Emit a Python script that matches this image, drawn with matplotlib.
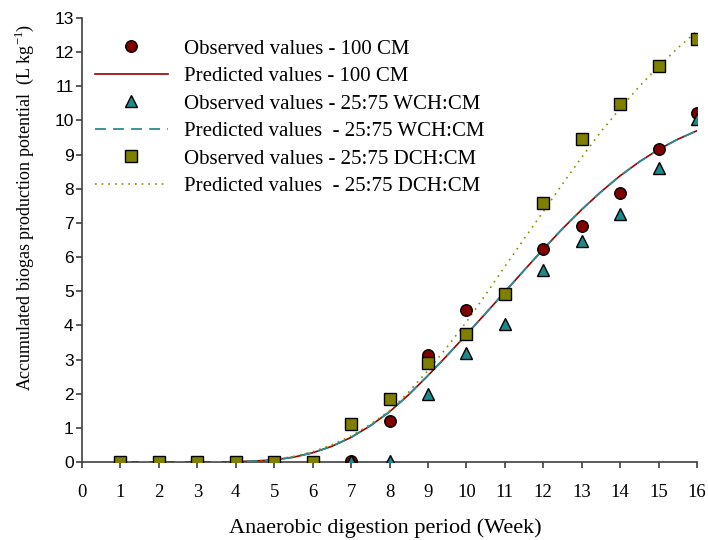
import numpy as np
import matplotlib
matplotlib.use('Agg')
import matplotlib.pyplot as plt

plt.rcParams['font.family'] = 'Liberation Serif'
plt.rcParams['mathtext.fontset'] = 'custom'
plt.rcParams['mathtext.rm'] = 'Liberation Serif'

# observed values, weeks 1..16
weeks = [1, 2, 3, 4, 5, 6, 7, 8, 9, 10, 11, 12, 13, 14, 15, 16]
obs_cm = [0, 0, 0, 0, 0, 0, 0.02, 1.2, 3.13, 4.45, 4.93, 6.25, 6.91, 7.87, 9.16, 10.21]
obs_wch = [0, 0, 0, 0, 0, 0, 0.02, 0.02, 1.98, 3.18, 4.03, 5.62, 6.47, 7.25, 8.62, 10.05]
obs_dch = [0, 0, 0, 0, 0, 0, 1.11, 1.84, 2.89, 3.75, 4.92, 7.57, 9.45, 10.47, 11.58, 12.38]

# predicted curves, read every half week
t_pred = [1, 1.5, 2, 2.5, 3, 3.5, 4, 4.5, 5, 5.5, 6, 6.5, 7, 7.5, 8, 8.5, 9, 9.5,
          10, 10.5, 11, 11.5, 12, 12.5, 13, 13.5, 14, 14.5, 15, 15.5, 16]
pred_cm = [0, 0, 0, 0, 0, 0, 0.01, 0.03, 0.06, 0.14, 0.27, 0.46, 0.72, 1.06, 1.47, 1.97, 2.53, 3.12,
           3.73, 4.35, 4.98, 5.61, 6.23, 6.83, 7.39, 7.91, 8.38, 8.79, 9.15, 9.45, 9.70]
pred_wch = [0, 0, 0, 0, 0, 0, 0.01, 0.03, 0.06, 0.14, 0.27, 0.46, 0.72, 1.06, 1.47, 1.97, 2.53, 3.12,
            3.73, 4.35, 4.98, 5.61, 6.23, 6.83, 7.39, 7.91, 8.38, 8.79, 9.15, 9.45, 9.70]
pred_dch = [0, 0, 0, 0, 0, 0, 0.01, 0.03, 0.07, 0.16, 0.3, 0.5, 0.76, 1.1, 1.5, 2.05, 2.68, 3.37,
            4.1, 4.9, 5.72, 6.53, 7.33, 8.14, 8.92, 9.67, 10.35, 11.0, 11.58, 12.12, 12.62]

fig = plt.figure(figsize=(7.08, 5.40), dpi=100)
ax = fig.add_axes([82/708, 78/540, 615/708, 444/540])

ax.plot(t_pred, pred_cm, color='#990000', lw=1.2, zorder=2, label='Predicted values - 100 CM')
ax.plot(t_pred, pred_wch, color='#2a8c96', lw=1.3, ls=(0, (6, 4)), zorder=3,
        label='Predicted values  - 25:75 WCH:CM')
ax.plot(t_pred, pred_dch, color='#8c8c00', lw=1.2, ls=(0, (1, 3)), zorder=2,
        label='Predicted values  - 25:75 DCH:CM')

ax.plot(weeks, obs_cm, 'o', ms=8.3, mfc='#800000', mec='black', mew=1, zorder=5,
        label='Observed values - 100 CM')
ax.plot(weeks, obs_wch, '^', ms=8.3, mfc='#1a8a8e', mec='black', mew=1, zorder=6,
        label='Observed values - 25:75 WCH:CM')
ax.plot(weeks, obs_dch, 's', ms=8.0, mfc='#808000', mec='black', mew=1, zorder=7,
        label='Observed values - 25:75 DCH:CM')

ax.set_xlim(0, 16)
ax.set_ylim(0, 13)
ax.set_xticks(range(0, 17))
ax.set_yticks(range(0, 14))
ax.spines['top'].set_visible(False)
ax.spines['right'].set_visible(False)
for sp in ['left', 'bottom']:
    ax.spines[sp].set_color('#404040')
    ax.spines[sp].set_linewidth(1.2)
ax.tick_params(axis='x', direction='out', length=4.5, width=1.2, color='#404040',
               labelsize=13.5, pad=11)
ax.tick_params(axis='y', direction='out', length=4, width=1.2, color='#404040',
               labelsize=12.5, pad=2)
for lb in ax.get_yticklabels():
    lb.set_fontfamily('Liberation Sans')

ax.set_xlabel('Anaerobic digestion period (Week)', fontsize=16)
ax.xaxis.set_label_coords(0.494, -(528 - 462) / 444)
ax.xaxis.label.set_va('center')
ax.set_ylabel(r'Accumulated biogas production potential  (L kg$^{\mathregular{-1}}$)',
              fontsize=13)
ax.yaxis.set_label_coords(-(82 - 24) / 615, (462 - 207) / 444)
ax.yaxis.label.set_va('center')

h, l = ax.get_legend_handles_labels()
order = [3, 0, 4, 1, 5, 2]
ax.legend([h[i] for i in order], [l[i] for i in order], loc='upper left',
          bbox_to_anchor=(95/708, 1 - 39/540), bbox_transform=fig.transFigure,
          frameon=False, fontsize=15, handlelength=3.5, handletextpad=0.75,
          labelspacing=0.38, borderpad=0, borderaxespad=0)

plt.savefig('out.png', dpi=100)
